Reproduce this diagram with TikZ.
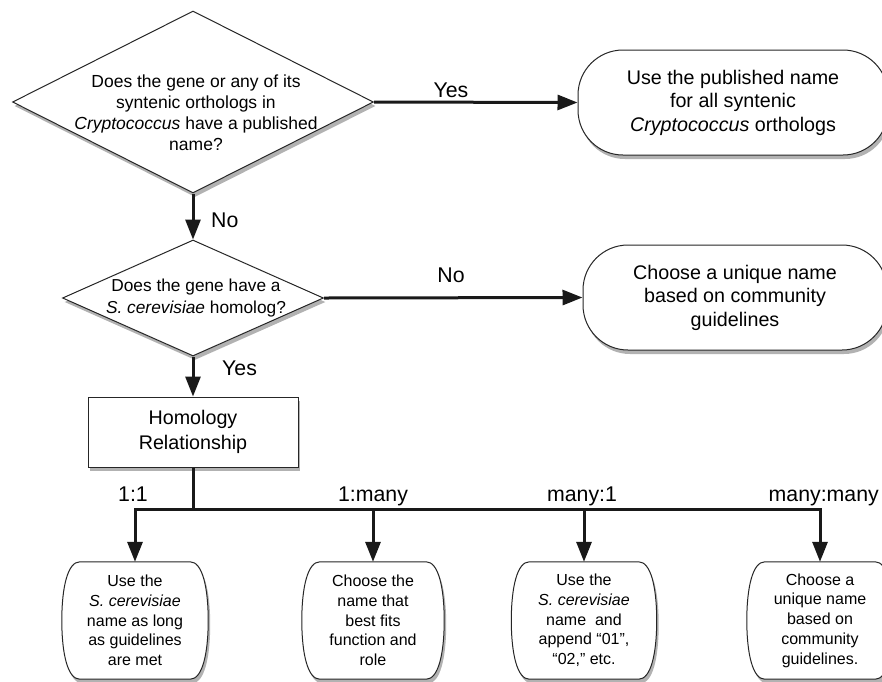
\documentclass[tikz,border=0pt]{standalone}
\usepackage{fontspec}
\setmainfont{Liberation Sans}
\usetikzlibrary{shapes.geometric,arrows.meta,shadows,backgrounds,calc}

\newcommand\blobpath[1]{%
  \path[blob] ([xshift=18pt]#1.north west) -- ([xshift=-18pt]#1.north east)
    .. controls ([xshift=-6pt]#1.north east) and ([yshift=-25pt]#1.north east) .. (#1.east)
    .. controls ([yshift=25pt]#1.south east) and ([xshift=-6pt]#1.south east) .. ([xshift=-18pt]#1.south east)
    -- ([xshift=18pt]#1.south west)
    .. controls ([xshift=6pt]#1.south west) and ([yshift=25pt]#1.south west) .. (#1.west)
    .. controls ([yshift=-25pt]#1.north west) and ([xshift=6pt]#1.north west) .. cycle;}

\begin{document}
\begin{tikzpicture}[x=1pt,y=-1pt,
  shadowed/.style={drop shadow={shadow xshift=2pt,shadow yshift=-4pt,opacity=0.3,fill=black}},
  decision/.style={diamond,draw=black!85,line width=1pt,fill=white,inner sep=0pt,shadowed},
  dtext/.style={align=center,inner sep=0pt},
  pill/.style={rectangle,rounded corners=45pt,draw=black!85,line width=1pt,fill=white,shadowed,
    align=center,font=\fontsize{19.7}{23.5}\selectfont},
  procbox/.style={rectangle,draw=black!85,line width=1pt,fill=white,shadowed,
    align=center,font=\fontsize{19.7}{25}\selectfont,minimum width=210pt,minimum height=70pt},
  blobtext/.style={align=center,font=\fontsize{16}{19.7}\selectfont,minimum height=117pt,inner sep=0pt},
  blob/.style={draw=black!85,line width=1pt,fill=white,shadowed},
  flow/.style={line width=3pt,draw=black!90,-{Triangle[length=20pt,width=15pt]}},
  branch/.style={line width=3pt,draw=black!90},
  lbl/.style={font=\fontsize{21.3}{24}\selectfont,inner sep=0pt}]

\useasboundingbox (0,0) rectangle (882,681);

% decisions
\node[decision,minimum width=361pt,minimum height=182pt] (d1) at (193,102) {};
\node[dtext,font=\fontsize{17.5}{21}\selectfont] (d1t) at (196,113)
  {Does the gene or any of its\\syntenic orthologs in\\\textit{Cryptococcus} have a published\\name?};
\node[decision,minimum width=261pt,minimum height=116pt] (d2) at (193,298) {};
\node[dtext,font=\fontsize{17.3}{22}\selectfont] (d2t) at (196,298)
  {Does the gene have a\\\textit{S. cerevisiae} homolog?};

% outcome pills
\node[pill,minimum width=310pt,minimum height=105pt] (p1) at (733,102.5)
  {Use the published name\\for all syntenic\\\textit{Cryptococcus} orthologs};
\node[pill,minimum width=304pt,minimum height=105pt] (p2) at (735,297.5)
  {Choose a unique name\\based on community\\guidelines};

% homology box
\node[procbox] (r) at (193,432) {Homology\\Relationship};

% bottom boxes
\node[blobtext,minimum width=146pt] (A) at (135,620.5)
  {Use the\\\textit{S. cerevisiae}\\name as long\\as guidelines\\are met};
\node[blobtext,minimum width=142pt] (B) at (373,620.5)
  {Choose the\\name that\\best fits\\function and\\role};
\node[blobtext,minimum width=145pt] (C) at (584,620.5)
  {Use the\\\textit{S. cerevisiae}\\name\ \ and\\append “01”,\\“02,” etc.};
\node[blobtext,minimum width=146pt] (D) at (820,620.5)
  {Choose a\\unique name\\based on\\community\\guidelines.};
\begin{pgfonlayer}{background}
  \fill[white] (0,0) rectangle (882,681);
  \blobpath{A}
  \blobpath{B}
  \blobpath{C}
  \blobpath{D}
\end{pgfonlayer}

% connectors
\draw[flow] (d1.east) -- (p1.west);
\draw[flow] (d1.south) -- (d2.north);
\draw[flow] (d2.east) -- (p2.west);
\draw[flow] (d2.south) -- (r.north);

\coordinate (bus) at (193,509);
\draw[branch] (r.south) -- (bus);
\draw[flow] (bus) -| (A.north);
\draw[flow] (bus) -| (B.north);
\draw[flow] (bus) -| (C.north);
\draw[flow] (bus) -| (D.north);

% connector labels
\node[lbl,anchor=base] (yes1) at (451,97) {Yes};
\node[lbl,anchor=base west] (no1) at (211,227) {No};
\node[lbl,anchor=base] (no2) at (451,282) {No};
\node[lbl,anchor=base west] (yes2) at (222,375) {Yes};
\node[lbl,anchor=base] (l1) at (133,501) {1:1};
\node[lbl,anchor=base] (l2) at (373,501) {1:many};
\node[lbl,anchor=base] (l3) at (582,501) {many:1};
\node[lbl,anchor=base east] (l4) at (879,501) {many:many};
\end{tikzpicture}
\end{document}
